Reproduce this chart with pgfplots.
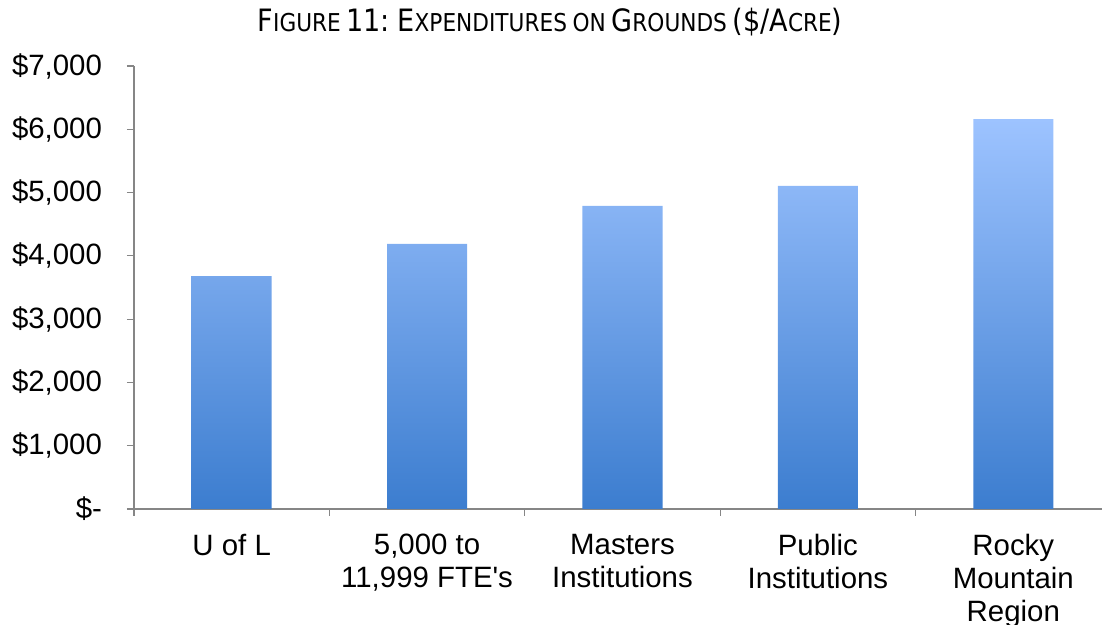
\documentclass[border=0pt]{standalone}
\usepackage{fontspec}
\setmainfont{Liberation Sans}
\newfontfamily\titlefont[FakeStretch=0.88]{DejaVu Sans}
\usepackage{pgfplots}
\pgfplotsset{compat=1.18}
\definecolor{bartop}{HTML}{9DC3FF}
\definecolor{barbot}{HTML}{3C7DCF}
\definecolor{axgray}{HTML}{868686}
\newcommand\SCb[1]{{\fontsize{15.4}{17}\selectfont #1}}
\newcommand\SCs[1]{{\fontsize{12.3}{17}\selectfont #1}}
\begin{document}
\begin{tikzpicture}
\begin{axis}[
  at={(0,0)}, anchor=south west,
  scale only axis,
  width=488.5pt, height=221.5pt,
  ybar, bar width=40pt,
  xmin=-0.5, xmax=4.5,
  ymin=0, ymax=7000,
  axis x line*=bottom, axis y line*=left,
  axis line style={draw=axgray, line width=0.6pt, -},
  tick style={draw=axgray, line width=0.6pt},
  tick align=outside,
  major tick length=3.5pt,
  ytick={0,1000,...,7000},
  yticklabels={{\$-\hspace{7pt}},{\$1,000},{\$2,000},{\$3,000},{\$4,000},{\$5,000},{\$6,000},{\$7,000}},
  yticklabel style={font=\fontsize{14.7}{16}\selectfont, xshift=-9pt},
  xtick={-0.5,0.5,...,4.5},
  xticklabels={},
  extra x ticks={0,1,2,3,4},
  extra x tick labels={U of L, {5,000 to\\11,999 FTE\textquotesingle s}, {Masters\\Institutions}, {Public\\Institutions}, {Rocky\\Mountain\\Region}},
  extra x tick style={major tick length=0pt, xticklabel style={align=center, font=\fontsize{14.7}{16.5}\selectfont, yshift=-9pt}},
  clip=false,
]
\addplot[draw=none, top color=bartop, bottom color=barbot] coordinates {(0,3680) (1,4190) (2,4790) (3,5105) (4,6160)};
\end{axis}
\node[font=\titlefont] at (208pt,243.5pt) {\SCb{F}\SCs{IGURE} \SCb{11:} \SCb{E}\SCs{XPENDITURES} \SCs{ON} \SCb{G}\SCs{ROUNDS} \SCb{(\$/A}\SCs{CRE}\SCb{)}};
\pgfresetboundingbox
\path[use as bounding box] (-67pt,-58pt) rectangle (484pt,254.5pt);
\end{tikzpicture}
\end{document}
